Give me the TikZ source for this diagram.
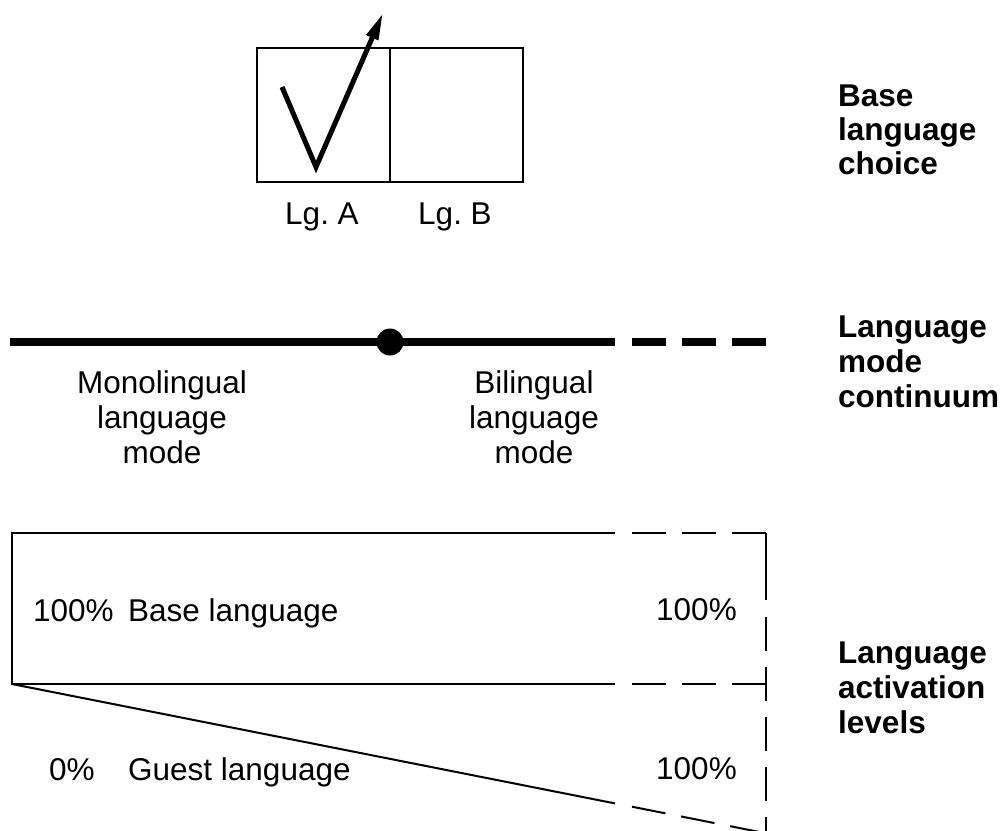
\documentclass[tikz,border=0pt]{standalone}
\usepackage{fontspec}
\setmainfont{Liberation Sans}
\usetikzlibrary{arrows.meta}
\frenchspacing
\begin{document}
\begin{tikzpicture}[x=1pt,y=-1pt,
  txt/.style={font=\fontsize{31.5}{36}\selectfont, inner sep=0pt},
  ctxt/.style={txt, anchor=base},
  ltxt/.style={txt, anchor=base west},
  btxt/.style={font=\fontsize{31.5}{36}\selectfont\bfseries, inner sep=0pt, anchor=base west},
  thin/.style={line width=2pt},
  thick8/.style={line width=8pt},
  dsh/.style={dash pattern=on 34pt off 16pt},
  choicebox/.style={draw, line width=2pt, inner sep=0pt, minimum width=133pt, minimum height=134pt, anchor=north west}]
\useasboundingbox (0,0) rectangle (1003,830);

% ---- base language choice ----
\node[choicebox] (boxA) at (256,47) {};
\node[choicebox] (boxB) at (389,47) {};
\node[ctxt] (lgA) at (322,224) {Lg. A};
\node[ctxt] (lgB) at (455,224) {Lg. B};
\coordinate (c1) at (282,87);
\coordinate (c2) at (316,167);
\coordinate (c3) at (383,13);
\draw[line width=5pt, line join=miter, -{Triangle[length=27pt,width=12pt]}] (c1) -- (c2) -- (c3);

% ---- language mode continuum ----
\coordinate (mL) at (10,342);
\coordinate (mS) at (615,342);
\coordinate (mD) at (632,342);
\coordinate (mR) at (767,342);
\draw[thick8] (mL) -- (mS);
\draw[thick8, dsh] (mD) -- (mR);
\node[circle, fill=black, inner sep=0pt, minimum size=27pt] (dot) at (390,342) {};

\node[ctxt] (mono1) at (162,393) {Monolingual};
\node[ctxt] (mono2) at (162,428) {language};
\node[ctxt] (mono3) at (162,463) {mode};
\node[ctxt] (bil1) at (534,393) {Bilingual};
\node[ctxt] (bil2) at (534,428) {language};
\node[ctxt] (bil3) at (534,463) {mode};

% ---- activation levels ----
\coordinate (tl) at (12,533);
\coordinate (ts) at (615,533);
\coordinate (td) at (632,533);
\coordinate (tr) at (766,533);
\coordinate (bl) at (12,684);
\coordinate (bs) at (615,684);
\coordinate (bd) at (632,684);
\coordinate (br) at (766,684);
\coordinate (vs) at (766,600);
\coordinate (vd) at (766,617);
\coordinate (vb) at (766,833);
\coordinate (gs) at (615,803.4);
\coordinate (gd) at (632,806.7);
\coordinate (ge) at (766,833.3);

\draw[thin] (ts) -- (tl) -- (bl) -- (bs);
\draw[thin] (bl) -- (gs);
\draw[thin, dsh] (td) -- (tr);
\draw[thin] (tr) -- (vs);
\draw[thin, dsh] (vd) -- (vb);
\draw[thin, dsh] (bd) -- (br);
\draw[thin, dsh] (gd) -- (ge);

\node[ltxt] (p1) at (33,621) {100\%};
\node[ltxt] (bln) at (128,621) {Base language};
\node[ltxt] (p2) at (656,620) {100\%};
\node[ltxt] (p3) at (49,780) {0\%};
\node[ltxt] (gln) at (128,780) {Guest language};
\node[ltxt] (p4) at (656,779) {100\%};

% ---- right labels ----
\node[btxt] (r11) at (838,106) {Base};
\node[btxt] (r12) at (838,140) {language};
\node[btxt] (r13) at (838,174) {choice};
\node[btxt] (r21) at (838,337) {Language};
\node[btxt] (r22) at (838,372) {mode};
\node[btxt] (r23) at (838,407) {continuum};
\node[btxt] (r31) at (838,663) {Language};
\node[btxt] (r32) at (838,698) {activation};
\node[btxt] (r33) at (838,733) {levels};
\end{tikzpicture}
\end{document}
